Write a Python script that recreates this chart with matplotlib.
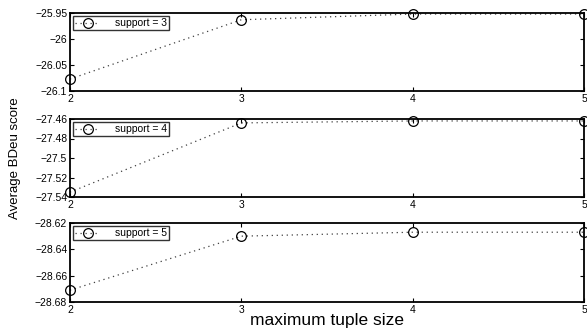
import numpy as np
import matplotlib.pyplot as plt

plt.rcParams['font.family'] = ['Liberation Sans', 'DejaVu Sans']

tuple_size = [2, 3, 4, 5]
support = [3, 4, 5]
scores = [
    [-26.077, -25.963, -25.952, -25.952],
    [-27.535, -27.464, -27.462, -27.462],
    [-28.671, -28.630, -28.627, -28.627],
]
ylims = [(-26.1, -25.95), (-27.54, -27.46), (-28.68, -28.62)]
yticks = [
    [-26.1, -26.05, -26.0, -25.95],
    [-27.54, -27.52, -27.5, -27.48, -27.46],
    [-28.68, -28.66, -28.64, -28.62],
]

fig = plt.figure(figsize=(5.87, 3.28), dpi=100)
# axes boxes in pixels (top, bottom)
boxes = [(13, 91), (119, 197), (223, 302)]
left, right = 70, 584
W, H = 587, 328

for i, (top, bot) in enumerate(boxes):
    ax = fig.add_axes([left / W, 1 - bot / H, (right - left) / W, (bot - top) / H])
    ax.plot(tuple_size, scores[i], linestyle=(0, (1, 3)), color='0.25', lw=0.9,
            marker='o', mfc='none', mec='k', ms=7, mew=0.9,
            label='support = %d' % support[i], clip_on=False)
    ax.set_xlim(2, 5)
    ax.set_ylim(*ylims[i])
    ax.set_xticks(tuple_size)
    ax.set_yticks(yticks[i])
    ax.set_yticklabels([('%g' % v).replace('-', '\u2212') for v in yticks[i]])
    ax.tick_params(direction='in', top=True, right=True, labelsize=7.5,
                   length=3, width=0.8, pad=2)
    for s in ax.spines.values():
        s.set_linewidth(1.3)
    leg = ax.legend(loc='upper left', fontsize=7.5, frameon=True, fancybox=False,
                    borderpad=0.2, handlelength=2.4, handletextpad=1.4,
                    borderaxespad=0.3)
    leg.get_frame().set_edgecolor('k')
    leg.get_frame().set_linewidth(1.0)
    if i == 1:
        ax.set_ylabel('Average BDeu score', fontsize=9.5)
        ax.yaxis.set_label_coords(-0.095, 0.5)
    if i == 2:
        ax.set_xlabel('maximum tuple size', fontsize=12.5, labelpad=-1)

fig.savefig('out.png', dpi=100)
